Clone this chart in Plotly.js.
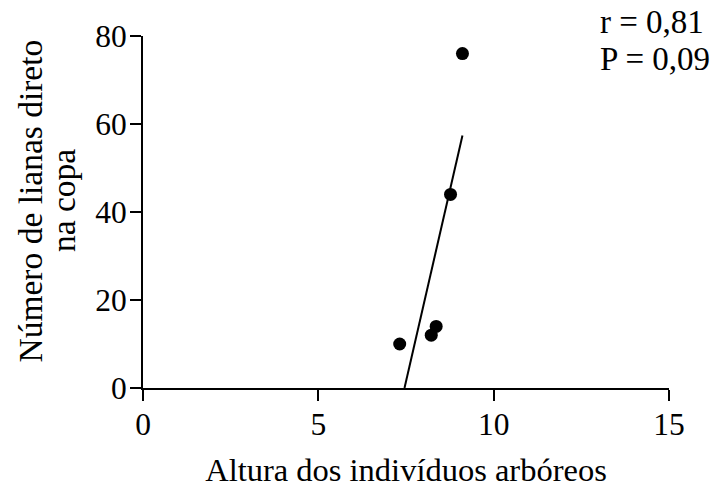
<!DOCTYPE html>
<html>
<head>
<meta charset="utf-8">
<script src="https://cdn.plot.ly/plotly-3.0.1.min.js"></script>
<style>html,body{margin:0;padding:0;background:#fff;}#chart{width:714px;height:488px;}</style>
</head>
<body>
<div id="chart"></div>
<script>
// Data
const altura = [9.11, 8.77, 8.36, 8.22, 7.32];
const lianas = [76, 44, 14, 12, 10];
const xTicks = [0, 5, 10, 15];
const yTicks = [0, 20, 40, 60, 80];
const statsText = ["r = 0,81", "P = 0,09"];
const yTitleLines = ["Número de lianas direto", "na copa"];
const xTitle = "Altura dos indivíduos arbóreos";

// Least-squares regression line computed from the data
const n = altura.length;
const mx = altura.reduce((a, b) => a + b, 0) / n;
const my = lianas.reduce((a, b) => a + b, 0) / n;
let sxy = 0, sxx = 0;
for (let i = 0; i < n; i++) { sxy += (altura[i] - mx) * (lianas[i] - my); sxx += (altura[i] - mx) ** 2; }
const slope = sxy / sxx;
const intercept = my - slope * mx;
const xMin = Math.min(...altura), xMax = Math.max(...altura);
const xStart = Math.max(xMin, -intercept / slope);
const fitX = [xStart, xMax];
const fitY = fitX.map(x => intercept + slope * x);

const W = 714, H = 488, ML = 143, MR = 45, MT = 36, MB = 100;
const PW = W - ML - MR, PH = H - MT - MB;
const pxX = p => (p - ML) / PW;          // page pixel -> paper x
const pxY = p => (H - MB - p) / PH;      // page pixel -> paper y

const font = {family: "Liberation Serif, Times New Roman, serif", color: "#000"};
const f = (s) => Object.assign({size: s}, font);

const data = [
  {x: fitX, y: fitY, mode: "lines", line: {color: "#000", width: 2}, hoverinfo: "skip", showlegend: false},
  {x: altura, y: lianas, mode: "markers", marker: {color: "#000", size: 13}, showlegend: false, cliponaxis: false}
];

const annotations = [];
statsText.forEach((t, i) => annotations.push({
  xref: "paper", yref: "paper", x: pxX(598), y: pxY(2 + i * 37), xanchor: "left", yanchor: "top",
  text: t, showarrow: false, font: f(33)
}));
yTitleLines.forEach((t, i) => annotations.push({
  xref: "paper", yref: "paper", x: pxX(29.5 + i * 33.5), y: pxY(201), xanchor: "center", yanchor: "middle",
  text: t, textangle: -90, showarrow: false, font: f(33.5)
}));

const layout = {
  width: W, height: H,
  margin: {l: ML, r: MR, t: MT, b: MB},
  paper_bgcolor: "#fff", plot_bgcolor: "#fff",
  font: f(32),
  showlegend: false,
  xaxis: {
    range: [0, 15], tickvals: xTicks, ticktext: xTicks.map(String),
    showgrid: false, zeroline: false, showline: true, linecolor: "#000", linewidth: 2,
    ticks: "outside", ticklen: 11, tickwidth: 2, tickcolor: "#000",
    tickfont: f(31.5), ticklabelstandoff: -4,
    title: {text: xTitle, font: f(32.5), standoff: 17}
  },
  yaxis: {
    range: [0, 80], tickvals: yTicks, ticktext: yTicks.map(String),
    showgrid: false, zeroline: false, showline: true, linecolor: "#000", linewidth: 2,
    ticks: "outside", ticklen: 11, tickwidth: 2, tickcolor: "#000",
    tickfont: f(31.5), ticklabelstandoff: -3
  },
  annotations: annotations
};

Plotly.newPlot("chart", data, layout, {displayModeBar: false, staticPlot: true});
</script>
</body>
</html>
